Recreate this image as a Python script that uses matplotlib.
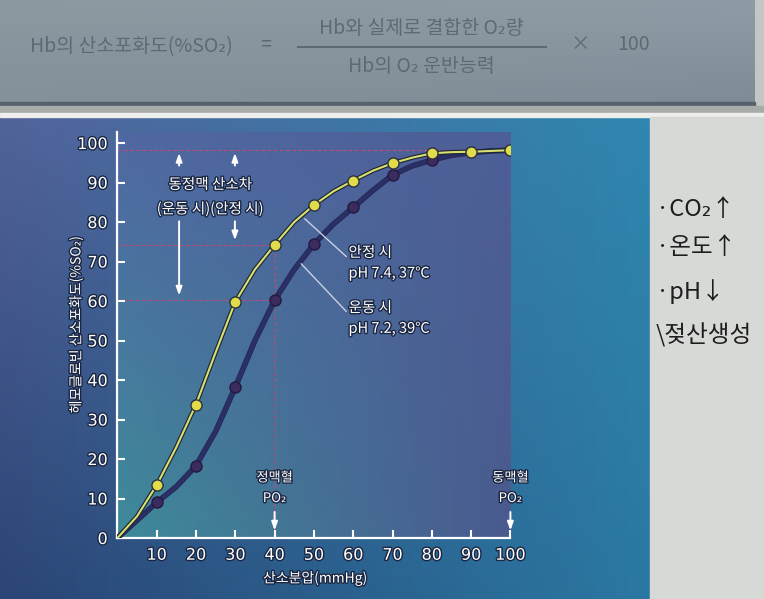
import numpy as np
import matplotlib
matplotlib.use("Agg")
import matplotlib.pyplot as plt
import matplotlib.patheffects as pe
from matplotlib.patches import Rectangle

plt.rcParams['font.family'] = ['Noto Sans CJK KR', 'DejaVu Sans']

# curve readings (line) and plotted points (markers)
po2_line = [0, 5, 10, 15, 20, 25, 30, 35, 40, 45, 50, 55, 60, 65, 70, 75, 80, 85, 90, 95, 100]
rest_line = [0, 5.5, 13.4, 23, 33.8, 47, 59.8, 68, 74.2, 80, 84.3, 87.8, 90.5, 93, 94.9, 96.3, 97.4, 97.7, 97.8, 98.0, 98.2]
exer_line = [0, 4.5, 9.0, 13, 18.3, 27, 38.2, 50, 60.2, 68, 74.4, 79.5, 83.7, 88, 91.9, 94.2, 95.7, 96.9, 97.6, 98.0, 98.2]

po2_pts = [10, 20, 30, 40, 50, 60, 70, 80, 90, 100]
rest_pts = [13.4, 33.8, 59.8, 74.2, 84.3, 90.5, 94.9, 97.4, 97.8, 98.2]
exer_pts = [9.0, 18.3, 38.2, 60.2, 74.4, 83.7, 91.9, 95.7]

y_ticks = [0, 10, 20, 30, 40, 50, 60, 70, 80, 90, 100]
x_ticks = [10, 20, 30, 40, 50, 60, 70, 80, 90, 100]

W, H = 764, 599
fig = plt.figure(figsize=(W / 100, H / 100), dpi=100)
fig.patch.set_facecolor('#c3c7c3')

# ---- page background in pixel coordinates
bg = fig.add_axes([0, 0, 1, 1])
bg.set_xlim(0, W)
bg.set_ylim(H, 0)
bg.axis('off')


def hex2rgb(h):
    return np.array(matplotlib.colors.to_rgb(h))


def corner_gradient(tl, tr, bl, br, n=60):
    t = np.linspace(0, 1, n)
    u, v = np.meshgrid(t, t)
    tl, tr, bl, br = map(hex2rgb, (tl, tr, bl, br))
    top = tl[None, None, :] * (1 - u[..., None]) + tr[None, None, :] * u[..., None]
    bot = bl[None, None, :] * (1 - u[..., None]) + br[None, None, :] * u[..., None]
    return top * (1 - v[..., None]) + bot * v[..., None]


# formula band
bg.imshow(corner_gradient('#8d99a0', '#8f9ba6', '#84909a', '#7f8b96'),
          extent=[0, 755, 104, 0], aspect='auto', zorder=0)
bg.add_patch(Rectangle((0, 102), 755, 4, color='#56616b', zorder=1))
bg.add_patch(Rectangle((0, 106), W, 8, color='#a7aca9', zorder=1))
bg.add_patch(Rectangle((0, 113), W, 4, color='#eeeeec', zorder=1))
# chart panel
bg.imshow(corner_gradient('#52639a', '#2f86b0', '#2b4576', '#2a78a2'),
          extent=[0, 650, 599, 117], aspect='auto', zorder=0)
bg.add_patch(Rectangle((650, 117), W - 650, H - 117, color='#d6d9d5', zorder=1))

# formula text
ftxt = dict(color='#5d6973', fontsize=14, va='center')
bg.text(30, 47, 'Hb의 산소포화도(%SO₂)', ha='left', **ftxt)
bg.text(266, 45, '=', ha='center', **ftxt)
bg.text(421, 29, 'Hb와 실제로 결합한 O₂량', ha='center', **ftxt)
bg.plot([298, 546], [47, 47], color='#5d6973', lw=1.5)
bg.text(421, 66, 'Hb의 O₂ 운반능력', ha='center', **ftxt)
bg.text(580, 45, '×', ha='center', **ftxt)
bg.text(634, 45, '100', ha='center', **ftxt)

# handwritten notes
ntxt = dict(color='#1e1e1e', fontsize=17, va='center', ha='left')
bg.text(656, 210, '·CO₂↑', **ntxt)
bg.text(656, 247, '·온도↑', **ntxt)
bg.text(656, 292, '·pH↓', **ntxt)
bg.text(656, 335, '\\젖산생성', **ntxt)

# ---- the chart
ax = fig.add_axes([117.4 / W, 61 / H, 393 / W, 406 / H])
ax.set_xlim(0, 100)
ax.set_ylim(0, 102.8)
ax.imshow(corner_gradient('#5068a2', '#4d5f96', '#3e8a9a', '#4a5a8f'),
          extent=[0, 100, 0, 102.8], aspect='auto', zorder=0)

halo = [pe.withStroke(linewidth=2, foreground='#1b2742')]
dash = dict(color='#b0507a', lw=0.9, ls=(0, (3, 2)), zorder=1)

top_sat = rest_pts[-1]
ven_rest = rest_pts[po2_pts.index(40)]
ven_exer = exer_pts[po2_pts.index(40)]
ax.plot([0, 100], [top_sat, top_sat], **dash)
ax.plot([0, 40], [ven_rest, ven_rest], **dash)
ax.plot([0, 40], [ven_exer, ven_exer], **dash)
ax.plot([40, 40], [0, ven_rest], **dash)
ax.plot([100, 100], [0, top_sat], **dash)

# curves
ax.plot(po2_line, exer_line, color='#2a2f66', lw=3, zorder=3,
        path_effects=[pe.withStroke(linewidth=4, foreground='#232652')])
ax.plot(po2_line, rest_line, color='#d9e070', lw=1.5, zorder=4,
        path_effects=[pe.withStroke(linewidth=3.2, foreground='#1d2836')])
ax.plot(po2_pts[:len(exer_pts)], exer_pts, 'o', color='#3b2b5e', ms=8,
        mec='#221a40', mew=1, zorder=5)
ax.plot(po2_pts, rest_pts, 'o', color='#e0dc4a', ms=8,
        mec='#2b3040', mew=1, zorder=6)

# axes styling
for s in ('top', 'right'):
    ax.spines[s].set_visible(False)
for s in ('left', 'bottom'):
    ax.spines[s].set_color('white')
    ax.spines[s].set_linewidth(1.6)
ax.set_xticks(x_ticks)
ax.set_yticks(y_ticks)
ax.tick_params(direction='in', colors='white', length=6, width=1.5,
               labelsize=11.5, pad=7)
for lab in ax.get_xticklabels() + ax.get_yticklabels():
    lab.set_path_effects(halo)
    lab.set_family(['Liberation Sans Narrow', 'DejaVu Sans'])

wtxt = dict(color='white', path_effects=halo, zorder=7)
arr = dict(arrowstyle='-|>,head_length=0.5,head_width=0.18', color='white', lw=1.4)

# arteriovenous difference arrows
for xa, low in ((15.7, ven_exer), (29.9, ven_rest)):
    ax.annotate('', xy=(xa, top_sat), xytext=(xa, 93.6), arrowprops=arr, zorder=7)
    ax.annotate('', xy=(xa, low + 0.5), xytext=(xa, 80.9), arrowprops=arr, zorder=7)
ax.text(23.6, 89.4, '동정맥 산소차', ha='center', va='center', fontsize=10.5, **wtxt)
ax.text(23.6, 83.3, '(운동 시)(안정 시)', ha='center', va='center', fontsize=10.5, **wtxt)

# curve labels
lead = dict(color='#c9d1e2', lw=1, zorder=6)
ax.plot([47.7, 58.2], [80.8, 71.3], **lead)
ax.plot([46.8, 58.2], [69.4, 57.4], **lead)
ax.text(58.8, 72.2, '안정 시', ha='left', va='center', fontsize=10.5, **wtxt)
ax.text(58.8, 67.0, 'pH 7.4, 37℃', ha='left', va='center', fontsize=10.5, **wtxt)
ax.text(58.8, 58.2, '운동 시', ha='left', va='center', fontsize=10.5, **wtxt)
ax.text(58.8, 53.0, 'pH 7.2, 39℃', ha='left', va='center', fontsize=10.5, **wtxt)

# venous / arterial PO2 markers
for xp, name in ((40, '정맥혈'), (100, '동맥혈')):
    ax.text(xp, 15.2, name, ha='center', va='center', fontsize=9.5, **wtxt)
    ax.text(xp, 10.0, 'PO₂', ha='center', va='center', fontsize=9.5, **wtxt)
    ax.annotate('', xy=(xp, 1.2), xytext=(xp, 7.3), arrowprops=arr, zorder=7)

fig.text(315 / W, 1 - 578 / H, '산소분압(mmHg)', ha='center', va='center',
         fontsize=10, color='white', path_effects=halo)
fig.text(76 / W, 1 - 325 / H, '헤모글로빈 산소포화도(%SO₂)', ha='center', va='center',
         rotation=90, fontsize=10, color='white', path_effects=halo)

fig.savefig('out.png', dpi=100)
